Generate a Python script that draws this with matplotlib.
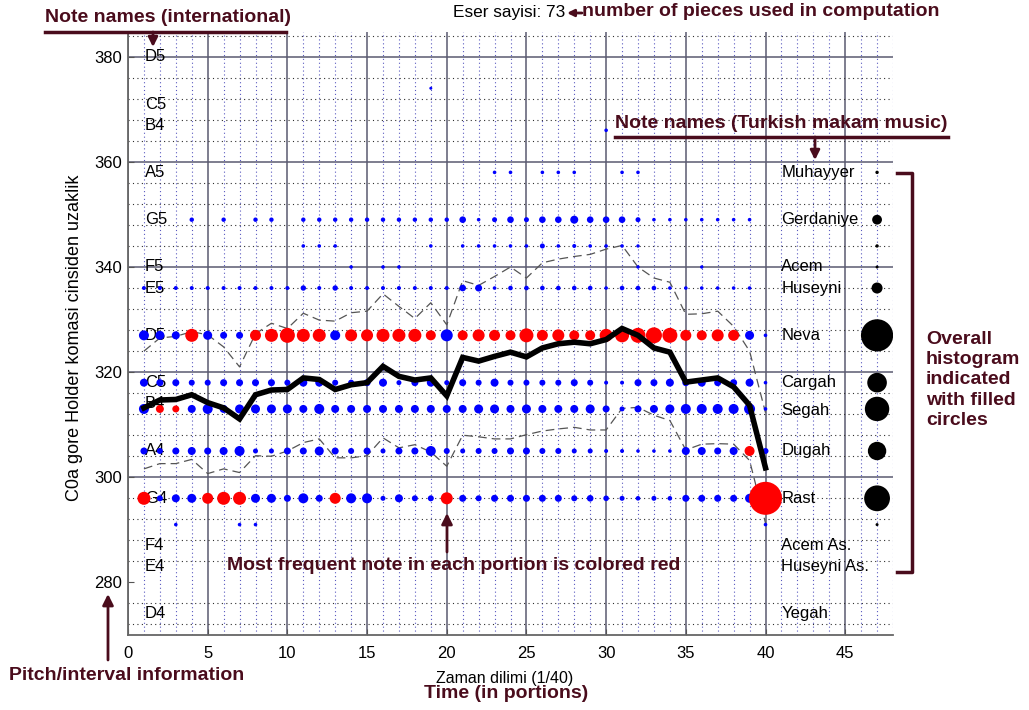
import numpy as np
import matplotlib.pyplot as plt
from matplotlib.ticker import MultipleLocator
from matplotlib.lines import Line2D
from matplotlib.patches import FancyArrowPatch

plt.rcParams['font.family'] = ['Liberation Sans', 'DejaVu Sans']

portions = np.arange(1, 41)

# note rows, pitch in Holder commas above C0
muhayyer_pitch, gerdaniye_pitch, row344_pitch, acem_pitch = 358, 349, 344, 340
huseyni_pitch, neva_pitch, cargah_pitch, segah_pitch = 336, 327, 318, 313
dugah_pitch, rast_pitch, row291_pitch = 305, 296, 291

# relative frequency of each note in each of the 40 portions
muhayyer = [0, 0, 0, 0, 0, 0, 0, 0, 0, 0,
            0, 0, 0, 0, 0, 0, 0, 0, 0, 0,
            0, 0, 1.3, 1.3, 0, 1.3, 1.3, 1.3, 0, 0,
            1.3, 1.3, 0, 0, 0, 0, 0, 0, 0, 0]
gerdaniye = [0, 0, 0, 1.7, 0, 1.7, 0, 1.7, 1.7, 0,
             1.7, 1.7, 1.7, 1.7, 1.7, 1.7, 1.7, 1.7, 1.7, 1.7,
             2.8, 1.3, 2.0, 2.8, 2.0, 2.8, 2.8, 3.5, 2.8, 2.8,
             2.8, 2.0, 1.3, 1.3, 1.3, 1.3, 1.3, 1.3, 1.3, 0]
row344 = [0, 0, 0, 0, 0, 0, 0, 0, 0, 0,
          1.3, 1.3, 1.3, 0, 0, 0, 0, 0, 1.3, 0,
          1.3, 1.3, 1.3, 1.3, 1.3, 2.0, 1.3, 1.5, 1.3, 1.3,
          1.3, 1.2, 0, 0, 0, 0, 0, 0, 0, 0]
acem = [0, 0, 0, 0, 0, 0, 0, 0, 0, 0,
        0, 0, 0, 1.3, 0, 1.3, 1.3, 0, 0, 0,
        0, 0, 0, 0, 0, 0, 0, 0, 0, 0,
        0, 1.2, 0, 0, 0, 1.2, 0, 0, 0, 0]
huseyni = [1.5, 1.5, 1.5, 1.5, 1.5, 1.5, 1.5, 1.5, 1.5, 1.5,
           2.2, 1.5, 2.2, 1.5, 1.5, 1.5, 1.5, 1.5, 1.5, 1.5,
           2.8, 3.0, 1.3, 1.8, 1.8, 1.8, 1.8, 1.8, 1.8, 1.3,
           1.8, 1.8, 1.8, 1.3, 1.3, 1.3, 1.3, 1.3, 1.3, 0]
neva = [4.5, 4, 3.5, 6, 4, 3, 3, 5, 6, 7,
        6, 6, 4.5, 5.5, 5.5, 6, 6, 6, 4.5, 5.5,
        4.5, 5.5, 5, 4.5, 6.5, 5, 5.5, 4.5, 4.5, 6,
        6.5, 7, 7.5, 7, 5, 4.5, 5.5, 5, 4, 1.3]
cargah = [3.5, 3, 3, 2.5, 2.5, 3, 3, 3, 3, 2.5,
          3.5, 3.5, 2.5, 2.5, 3, 3.5, 2, 3, 3.5, 2,
          3, 2.5, 3.5, 2.5, 2.5, 2.5, 2.5, 3, 2.5, 1.5,
          1.5, 3, 3, 3.5, 3, 3.5, 3, 3, 3.5, 1.3]
segah = [4.5, 3.5, 3, 3.5, 4.5, 3.5, 4, 4, 4, 4,
         3.5, 4.5, 3.5, 3.5, 3.5, 3.5, 3.5, 3.5, 3.5, 3.5,
         3.5, 4, 4, 3.5, 4, 3.5, 3.5, 3.5, 4, 3,
         2, 3, 3.5, 4, 4.5, 4.5, 4.5, 4.5, 5, 1.3]
dugah = [3, 2.5, 3, 3.5, 3, 3.5, 4.5, 2, 2, 3,
         3, 4, 3, 2.5, 3, 2, 3, 3, 4.5, 2.5,
         2, 2.5, 2.5, 3, 3, 2.5, 2.5, 2, 2, 1.5,
         1.5, 1.3, 1.3, 1.3, 3.5, 3.5, 3, 3.5, 4.5, 2.5]
rast = [6, 2.5, 3.5, 4, 5, 6, 6, 4, 4, 3,
        4.5, 3, 5, 4.5, 4.5, 2, 3.5, 2.5, 2.5, 5.5,
        3, 2.5, 3, 3, 3, 3, 3, 2.5, 2.8, 2.3,
        2, 1.8, 2, 1.8, 3, 3, 3, 3, 4, 16]
row291 = [0, 0, 1.3, 0, 0, 0, 1.3, 1.3, 0, 0,
          0, 0, 0, 0, 0, 0, 0, 0, 0, 0,
          0, 0, 0, 0, 0, 0, 0, 0, 0, 0,
          0, 0, 0, 0, 0, 0, 0, 0, 0, 1.3]

# isolated notes outside the main rows: portion, pitch, frequency
stray_portion = [19, 30]
stray_pitch = [374, 366]
stray_freq = [1.0, 1.3]

# most frequent pitch of each portion
top_pitch = [296, 313, 313, 327, 296, 296, 296, 327, 327, 327,
             327, 327, 296, 327, 327, 327, 327, 327, 327, 296,
             327, 327, 327, 327, 327, 327, 327, 327, 327, 327,
             327, 327, 327, 327, 327, 327, 327, 327, 305, 296]

# mean pitch and mean +/- std per portion
mean_pitch = [313.2, 314.7, 314.8, 315.7, 314.2, 313.2, 311.1, 315.7, 316.6, 316.7,
              318.9, 318.6, 316.7, 317.6, 318.0, 321.1, 319.2, 318.5, 318.9, 315.5,
              322.8, 322.1, 323.0, 323.8, 322.9, 324.6, 325.4, 325.7, 325.4, 326.2,
              328.3, 327.0, 324.6, 323.8, 318.1, 318.5, 318.9, 317.2, 313.7, 301.8]
upper_pitch = [324.0, 326.5, 326.8, 327.7, 327.1, 324.8, 321.0, 327.3, 329.3, 328.3,
               331.2, 329.9, 329.7, 331.3, 331.6, 334.9, 332.5, 330.2, 333.2, 329.0,
               337.4, 336.5, 338.2, 340.0, 337.9, 340.8, 341.5, 342.0, 342.4, 343.4,
               344.1, 340.0, 337.9, 337.1, 331.0, 331.1, 331.6, 328.7, 324.0, 312.3]
lower_pitch = [301.6, 302.6, 302.6, 303.4, 300.7, 301.6, 300.9, 304.1, 304.0, 305.0,
               306.6, 307.3, 303.7, 303.7, 304.1, 307.5, 305.6, 306.2, 304.8, 302.1,
               308.0, 307.7, 307.3, 307.3, 308.1, 308.8, 309.2, 309.5, 309.0, 309.0,
               313.1, 313.3, 311.8, 310.8, 305.2, 306.3, 306.4, 306.3, 303.2, 291.3]

# overall histogram drawn at portion 47
hist_pitch = [358, 349, 344, 340, 336, 327, 318, 313, 305, 296, 291]
hist_freq = [1.2, 4.4, 1.2, 1.0, 5.0, 15.6, 9.3, 11.7, 8.7, 12.4, 1.0]

intl_names = ['D5', 'C5', 'B4', 'A5', 'G5', 'F5', 'E5', 'D5', 'C5', 'B4',
              'A4', 'G4', 'F4', 'E4', 'D4']
intl_pitch = [380, 371, 367, 358, 349, 340, 336, 327, 318, 314,
              305, 296, 287, 283, 274]
makam_names = ['Muhayyer', 'Gerdaniye', 'Acem', 'Huseyni', 'Neva', 'Cargah',
               'Segah', 'Dugah', 'Rast', 'Acem As.', 'Huseyni As.', 'Yegah']
makam_pitch = [358, 349, 340, 336, 327, 318, 312.7, 305, 296, 287, 283, 274]

n_pieces = 73

rows = [(muhayyer_pitch, muhayyer), (gerdaniye_pitch, gerdaniye),
        (row344_pitch, row344), (acem_pitch, acem), (huseyni_pitch, huseyni),
        (neva_pitch, neva), (cargah_pitch, cargah), (segah_pitch, segah),
        (dugah_pitch, dugah), (rast_pitch, rast), (row291_pitch, row291)]


def msize(freq):
    # frequency value -> scatter area
    return (1.44 * (np.asarray(freq, dtype=float) + 0.5)) ** 2


maroon = '#4a0c1c'
W, H = 1029, 710
fig = plt.figure(figsize=(W / 100, H / 100), dpi=100)
ax = fig.add_axes([128 / W, 1 - 635 / H, (893 - 128) / W, (635 - 32) / H])

ax.set_xlim(0, 48)
ax.set_ylim(270, 384.7)
ax.xaxis.set_major_locator(MultipleLocator(5))
ax.xaxis.set_minor_locator(MultipleLocator(1))
ax.yaxis.set_major_locator(MultipleLocator(20))
ax.yaxis.set_minor_locator(MultipleLocator(4))
ax.set_xticks(np.arange(0, 46, 5))
ax.set_yticks(np.arange(280, 381, 20))
ax.set_axisbelow(True)
ax.grid(which='major', color='#5a5a70', lw=1.1, ls='-')
ax.grid(which='minor', axis='x', color='#5a5ac0', lw=0.8, ls=(0, (1, 2.5)))
ax.grid(which='minor', axis='y', color='#303030', lw=0.8, ls=(0, (1, 3)))
for gl, v in zip(ax.get_ygridlines(), ax.get_yticks()):
    if v == 280:
        gl.set_visible(False)
ax.tick_params(which='minor', length=0)
ax.tick_params(which='major', direction='in', length=4, labelsize=12, color='#555555')
ax.tick_params(axis='x', pad=8)
ax.tick_params(axis='y', pad=4)
for side in ('top', 'right'):
    ax.spines[side].set_visible(False)
for side in ('left', 'bottom'):
    ax.spines[side].set_color('#666666')
    ax.spines[side].set_linewidth(1.3)

# note names
for name, p in zip(intl_names, intl_pitch):
    ax.text(1.05, p, name, fontsize=12, ha='left', va='center', zorder=2)
for name, p in zip(makam_names, makam_pitch):
    ax.text(41.0, p, name, fontsize=12, ha='left', va='center', zorder=2)

# mean +/- std
ax.plot(portions, upper_pitch, color='#555555', lw=0.9, ls=(0, (7, 4)), zorder=2)
ax.plot(portions, lower_pitch, color='#555555', lw=0.9, ls=(0, (7, 4)), zorder=2)

# note frequencies per portion, most frequent note in red
for pitch, freq in rows:
    freq = np.asarray(freq, dtype=float)
    has = freq > 0
    colors = np.where(np.asarray(top_pitch) == pitch, '#ff0000', '#0000ff')
    ax.scatter(portions[has], np.full(has.sum(), pitch), s=msize(freq[has]),
               c=colors[has], linewidths=0, zorder=3)
ax.scatter(stray_portion, stray_pitch, s=msize(stray_freq), c='#0000ff',
           linewidths=0, zorder=3)

ax.plot(portions, mean_pitch, color='black', lw=4, solid_joinstyle='miter', zorder=4)

ax.scatter(np.full(len(hist_pitch), 47), hist_pitch, s=msize(hist_freq),
           c='black', linewidths=0, zorder=3)

# axis titles
fig.text(75 / W, 1 - 338 / H, 'C0a gore Holder komasi cinsiden uzaklik',
         rotation=90, ha='center', va='center', fontsize=13)
fig.text(505 / W, 1 - 678 / H, 'Zaman dilimi (1/40)', ha='center', va='center', fontsize=11.5)
fig.text(565 / W, 1 - 12 / H, 'Eser sayisi: %d' % n_pieces, ha='right', va='center', fontsize=12.4)


def px(x, y):
    return (x / W, 1 - y / H)


def note(x, y, s, ha='left'):
    fig.text(*px(x, y), s, ha=ha, va='center', fontsize=14, fontweight='bold',
             color=maroon)


def arrow(x0, y0, x1, y1, scale=16):
    fig.add_artist(FancyArrowPatch(px(x0, y0), px(x1, y1), transform=fig.transFigure,
                                   arrowstyle='-|>', mutation_scale=scale,
                                   color=maroon, lw=2, shrinkA=0, shrinkB=0))


def rule(xs, ys):
    fig.add_artist(Line2D([x / W for x in xs], [1 - y / H for y in ys],
                          transform=fig.transFigure, color=maroon, lw=2.5))


note(45, 17, 'Note names (international)')
rule([45, 286], [32, 32])
arrow(153, 32, 153, 47, 14)

arrow(582, 13, 567, 13, 10)
note(582, 12, 'number of pieces used in computation')

note(615, 124, 'Note names (Turkish makam music)')
rule([615, 948], [137, 137])
arrow(815, 137, 815, 160, 14)

rule([897, 912, 912, 897], [173, 173, 572, 572])
fig.text(*px(926, 380), 'Overall\nhistogram\nindicated\nwith filled\ncircles',
         ha='left', va='center', fontsize=14, fontweight='bold', color=maroon,
         linespacing=1.25)

note(454, 565, 'Most frequent note in each portion is colored red', ha='center')
arrow(447, 552, 447, 513)

note(127, 676, 'Pitch/interval information', ha='center')
arrow(108, 660, 108, 594)

note(506, 693, 'Time (in portions)', ha='center')

fig.savefig('out.png', dpi=100)
